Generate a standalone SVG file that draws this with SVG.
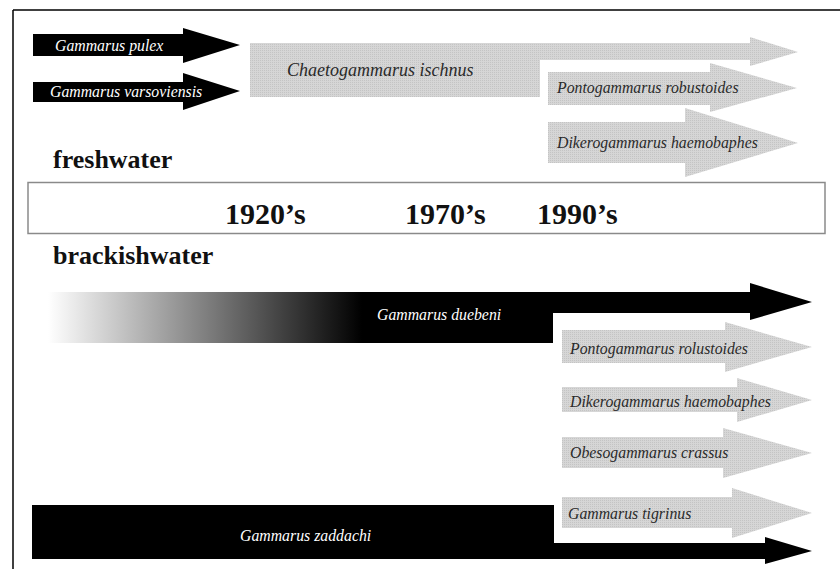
<svg xmlns="http://www.w3.org/2000/svg" width="840" height="569" viewBox="0 0 840 569">
<style>
.lab{font-family:"Liberation Serif","Times New Roman",serif;font-style:italic;font-size:15.8px}
.w{fill:#ffffff}
.d{fill:#2a2a2a}
.grey{fill:url(#dots)}
.blk{fill:#000000}
.hdr{font-family:"Liberation Serif","Times New Roman",serif;font-weight:bold;font-size:26px;fill:#111}
.yr{font-family:"Liberation Serif","Times New Roman",serif;font-weight:bold;font-size:30px;fill:#111}
</style>
<defs>
<pattern id="dots" width="2" height="2" patternUnits="userSpaceOnUse">
<rect width="2" height="2" fill="#d6d6d6"/>
<rect width="1" height="1" fill="#c4c4c4"/>
</pattern>
<linearGradient id="fade" gradientUnits="userSpaceOnUse" x1="48" y1="0" x2="362" y2="0">
<stop offset="0" stop-color="#ffffff"/>
<stop offset="0.97" stop-color="#080808"/>
<stop offset="1" stop-color="#000000"/>
</linearGradient>
</defs>
<rect width="840" height="569" fill="#ffffff"/>
<g id="frame" fill="none">
<line x1="13" y1="10" x2="840" y2="10" stroke="#000" stroke-width="1.5"/>
<line x1="13" y1="10" x2="13" y2="569" stroke="#000" stroke-width="1.5"/>
</g>
<g id="connectors">
<g id="g-pulex">
<polygon class="blk" points="33,34 183,34 183,28 240,45 183,63 183,56 33,56"/>
<text class="lab w" x="55" y="51">Gammarus pulex</text>
</g>
<g id="g-varsoviensis">
<polygon class="blk" points="33,82 183,82 183,73 240,91 183,110 183,102 33,102"/>
<text class="lab w" x="50" y="97">Gammarus varsoviensis</text>
</g>
<g id="c-ischnus">
<polygon class="grey" points="250,43 750,43 750,37 798,52 750,66 750,60 540,60 540,97 250,97"/>
<text class="lab d" x="287" y="76" style="font-size:18px">Chaetogammarus ischnus</text>
</g>
<g id="p-robustoides">
<polygon class="grey" points="548,72 710,72 710,63 797,88 710,112 710,105 548,105"/>
<text class="lab d" x="557" y="93">Pontogammarus robustoides</text>
</g>
<g id="d-haemobaphes-fw">
<polygon class="grey" points="548,122 685,122 685,108 798,143 685,177 685,163 548,163"/>
<text class="lab d" x="557" y="148">Dikerogammarus haemobaphes</text>
</g>
<g id="g-duebeni">
<polygon fill="url(#fade)" points="48,292 750,292 750,283 812,302 750,320 750,313 553,313 553,343 48,343"/>
<text class="lab w" x="377" y="320">Gammarus duebeni</text>
</g>
<g id="p-rolustoides">
<polygon class="grey" points="562,330 725,330 725,322 812,347 725,372 725,363 562,363"/>
<text class="lab d" x="570" y="354">Pontogammarus rolustoides</text>
</g>
<g id="d-haemobaphes-bw">
<polygon class="grey" points="562,387 737,387 737,378 812,400 737,422 737,412 562,412"/>
<text class="lab d" x="570" y="407">Dikerogammarus haemobaphes</text>
</g>
<g id="o-crassus">
<polygon class="grey" points="562,437 723,437 723,428 812,453 723,478 723,468 562,468"/>
<text class="lab d" x="570" y="458">Obesogammarus crassus</text>
</g>
<g id="g-tigrinus">
<polygon class="grey" points="562,497 732,497 732,488 812,513 732,538 732,528 562,528"/>
<text class="lab d" x="568" y="519">Gammarus tigrinus</text>
</g>
<g id="g-zaddachi">
<polygon class="blk" points="32,505 554,505 554,543 765,543 765,537 812,551 765,564 765,559 32,559"/>
<text class="lab w" x="240" y="541">Gammarus zaddachi</text>
</g>
</g>
<g id="freshwater-label">
<text class="hdr" x="53" y="168">freshwater</text>
</g>
<g id="timeline">
<rect x="28" y="182.5" width="797" height="51" fill="#ffffff" stroke="#8a8a8a" stroke-width="1.5"/>
<text class="yr" x="225" y="224">1920’s</text>
<text class="yr" x="405" y="224">1970’s</text>
<text class="yr" x="537" y="224">1990’s</text>
</g>
<g id="brackishwater-label">
<text class="hdr" x="53" y="264">brackishwater</text>
</g>
</svg>
